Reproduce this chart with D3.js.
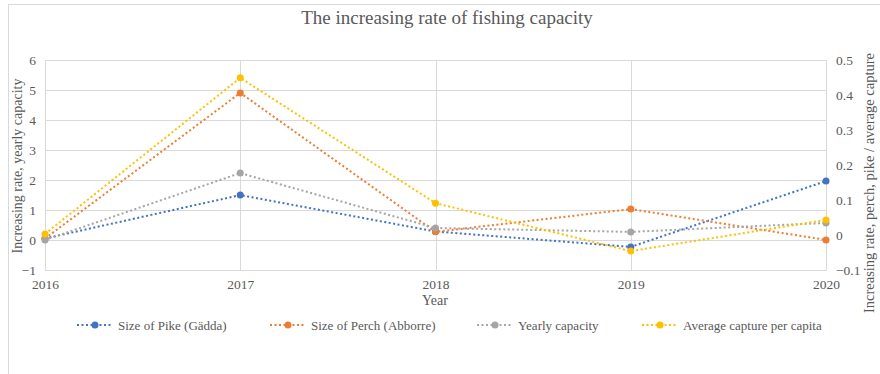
<!DOCTYPE html>
<html><head><meta charset="utf-8">
<script src="https://cdn.jsdelivr.net/npm/d3@7"></script>
<style>body{margin:0;background:#fff}</style>
</head><body><svg id="c" width="880" height="374"></svg>
<script>
const years = ["2016","2017","2018","2019","2020"];
const pike = [-0.01, 0.114, 0.01, -0.034, 0.154];
const perch = [-0.01, 0.406, 0.009, 0.074, -0.014];
const yearly = [0, 2.23, 0.4, 0.27, 0.57];
const avgCapture = [0.003, 0.449, 0.091, -0.046, 0.043];
const leftTicks = [-1,0,1,2,3,4,5,6];
const rightTicks = [-0.1,0,0.1,0.2,0.3,0.4,0.5];

const series = [
  {name:"Size of Pike (Gädda)", values:pike, color:"#4472C4", axis:"r", lx:77},
  {name:"Size of Perch (Abborre)", values:perch, color:"#ED7D31", axis:"r", lx:270},
  {name:"Yearly capacity", values:yearly, color:"#A5A5A5", axis:"l", lx:477},
  {name:"Average capture per capita", values:avgCapture, color:"#FFC000", axis:"r", lx:642}
];

const FONT = "Liberation Serif, Times New Roman, DejaVu Serif, serif";
const svg = d3.select("#c");
const L=45, R=826, T=60, B=270;
svg.append("rect").attr("x",8.5).attr("y",4.5).attr("width",900).attr("height",400)
  .attr("fill","none").attr("stroke","#d9d9d9");

const x = d3.scalePoint().domain(years).range([L,R]);
const yL = d3.scaleLinear().domain([-1,6]).range([B,T]);
const yR = d3.scaleLinear().domain([-0.1,0.5]).range([B,T]);

svg.append("g").selectAll("line").data(leftTicks).join("line")
  .attr("x1",L).attr("x2",R).attr("y1",d=>yL(d)+0.5).attr("y2",d=>yL(d)+0.5)
  .attr("stroke","#d9d9d9").attr("stroke-width",1);
svg.append("g").selectAll("line").data(years).join("line")
  .attr("x1",d=>Math.round(x(d))+0.5).attr("x2",d=>Math.round(x(d))+0.5).attr("y1",T).attr("y2",B)
  .attr("stroke","#d9d9d9").attr("stroke-width",1);

const ga = svg.append("g").attr("transform",`translate(${L},0)`).call(d3.axisLeft(yL).tickValues(leftTicks).tickSize(0).tickPadding(9).tickFormat(d3.format("d")));
const gr = svg.append("g").attr("transform",`translate(${R},0)`).call(d3.axisRight(yR).tickValues(rightTicks).tickSize(0).tickPadding(10).tickFormat(d=>d===0?"0":d3.format(".1f")(d)));
const gx = svg.append("g").attr("transform",`translate(0,${B})`).call(d3.axisBottom(x).tickSize(0).tickPadding(9));
[ga,gr,gx].forEach(g=>{g.attr("font-family",FONT).attr("font-size",13.5); g.select(".domain").attr("stroke","#d9d9d9"); g.selectAll("text").attr("fill","#595959");});

const txt = (x0,y0,size,s,anchor="middle")=>svg.append("text").attr("x",x0).attr("y",y0).attr("text-anchor",anchor)
  .attr("font-size",size).attr("font-family",FONT).attr("fill","#595959").text(s);
txt(447,24,19,"The increasing rate of fishing capacity");
txt(435,305,14,"Year");
txt(0,0,14,"Increasing rate, yearly capacity").attr("transform",`translate(22,166) rotate(-90)`);
txt(0,0,14.5,"Increasing rate, perch, pike / average capture").attr("transform",`translate(874,183) rotate(-90)`);

series.forEach(s=>{
  const ys = s.axis==="l"?yL:yR;
  const line = d3.line().x((d,i)=>x(years[i])).y(d=>ys(d));
  svg.append("path").datum(s.values).attr("d",line).attr("fill","none")
    .attr("stroke",s.color).attr("stroke-width",2).attr("stroke-dasharray","2,2.5");
  svg.append("g").selectAll("circle").data(s.values).join("circle")
    .attr("cx",(d,i)=>x(years[i])).attr("cy",d=>ys(d)).attr("r",3.5).attr("fill",s.color);
});

const ly = 325;
series.forEach(s=>{
  svg.append("line").attr("x1",s.lx).attr("x2",s.lx+36).attr("y1",ly).attr("y2",ly)
    .attr("stroke",s.color).attr("stroke-width",2).attr("stroke-dasharray","2,2.5");
  svg.append("circle").attr("cx",s.lx+18).attr("cy",ly).attr("r",3.5).attr("fill",s.color);
  txt(s.lx+41,ly+4.5,13,s.name,"start");
});
</script></body></html>
